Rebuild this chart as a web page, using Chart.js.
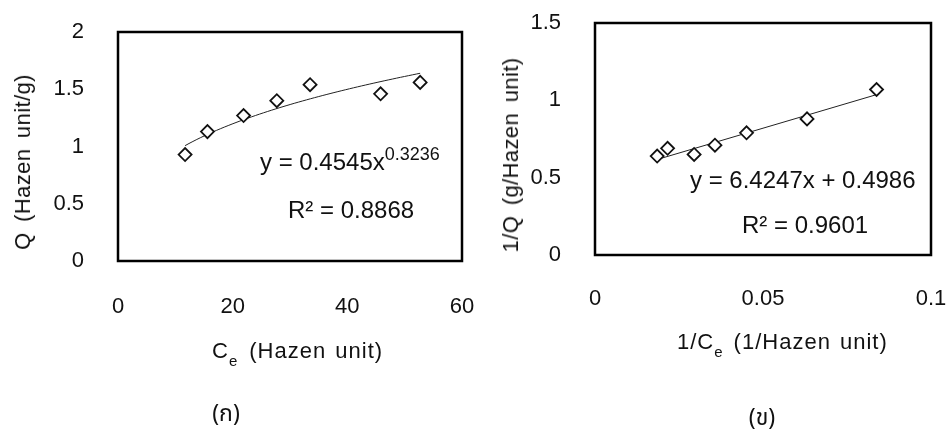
<!DOCTYPE html>
<html>
<head>
<meta charset="utf-8">
<script src="https://cdn.jsdelivr.net/npm/chart.js@4.4.1/dist/chart.umd.min.js"></script>
<style>
  html, body { margin: 0; padding: 0; background: #fff; }
  #page { position: relative; width: 948px; height: 433px; overflow: hidden; font-family: "Liberation Sans", Arial, sans-serif; color: #111; }
  .box { position: absolute; top: 0; width: 474px; height: 433px; }
  .txt { position: absolute; white-space: nowrap; line-height: 1; transform: translateY(-50%); }
  .eq { font-size: 24px; }
  .xt { font-size: 22px; letter-spacing: 1px; word-spacing: 2px; }
  .sub { font-size: 15px; position: relative; top: 8px; letter-spacing: 0; }
  .sup { font-size: 18px; position: relative; top: -10px; }
  .yt { position: absolute; font-size: 22px; white-space: nowrap; line-height: 1; letter-spacing: 0.4px; word-spacing: 4px; transform: translate(-50%, -50%) rotate(-90deg); }
  .cap { position: absolute; font-size: 23px; transform: translate(-50%, -50%); font-family: "Noto Sans Thai", "Noto Serif Thai", Garuda, Loma, "DejaVu Sans", serif; }
</style>
</head>
<body>
<div id="page">
  <div class="box" style="left:0"><canvas id="c1"></canvas></div>
  <div class="box" style="left:474px"><canvas id="c2"></canvas></div>

  <div class="yt" style="left:23px; top:162px">Q (Hazen unit/g)</div>
  <div class="yt" style="left:511px; top:155px">1/Q (g/Hazen unit)</div>

  <div class="txt xt" style="left:212px; top:351px">C<span class="sub" style="margin-right:12px">e</span>(Hazen unit)</div>
  <div class="txt xt" style="left:677px; top:342px">1/C<span class="sub" style="margin-right:11px">e</span>(1/Hazen unit)</div>

  <div class="txt eq" style="left:260px; top:162px">y = 0.4545x<span class="sup">0.3236</span></div>
  <div class="txt eq" style="left:288px; top:210px">R² = 0.8868</div>
  <div class="txt eq" style="left:690px; top:180px">y = 6.4247x + 0.4986</div>
  <div class="txt eq" style="left:742px; top:225px">R² = 0.9601</div>

  <div class="cap" style="left:226px; top:414px">(ก)</div>
  <div class="cap" style="left:762px; top:418px">(ข)</div>
</div>

<script>
// (ก) equilibrium concentration vs adsorbed amount
const ce = [11.7, 15.6, 21.9, 27.7, 33.5, 45.8, 52.7];
const q = [0.93, 1.13, 1.27, 1.40, 1.54, 1.46, 1.56];
// power trendline shown on the chart: y = 0.4545x^0.3236
const powA = 0.4545;
const powB = 0.3236;

// (ข) linearised form 1/Q vs 1/Ce
const invCe = [0.0185, 0.0216, 0.0295, 0.0357, 0.0451, 0.0631, 0.0838];
const invQ = [0.64, 0.69, 0.65, 0.71, 0.79, 0.88, 1.07];
// linear trendline shown on the chart: y = 6.4247x + 0.4986
const linM = 6.4247;
const linC = 0.4986;

const xTicks1 = [0, 20, 40, 60];
const yTicks1 = [0, 0.5, 1, 1.5, 2];
const xTicks2 = [0, 0.05, 0.1];
const yTicks2 = [0, 0.5, 1, 1.5];

const powLine = [];
for (let i = 0; i <= 60; i++) {
  const x = ce[0] + (ce[ce.length - 1] - ce[0]) * i / 60;
  powLine.push({ x: x, y: powA * Math.pow(x, powB) });
}
const linLine = [invCe[0], invCe[invCe.length - 1]].map(x => ({ x: x, y: linM * x + linC }));

const frame = {
  id: 'frame',
  afterDatasetsDraw(chart) {
    const a = chart.chartArea;
    const ctx = chart.ctx;
    ctx.save();
    ctx.strokeStyle = '#000';
    ctx.lineWidth = 2.5;
    ctx.strokeRect(a.left, a.top, a.right - a.left, a.bottom - a.top);
    ctx.restore();
  }
};

function fmt(v) {
  return String(Number(v.toFixed(3)));
}

function makeChart(id, pts, line, xr, yr, xt, yt, dims) {
  const canvas = document.getElementById(id);
  canvas.width = 474;
  canvas.height = 433;
  return new Chart(canvas.getContext('2d'), {
    type: 'scatter',
    data: {
      datasets: [
        {
          data: pts,
          pointStyle: 'rectRot',
          pointRadius: 6.5,
          pointBorderWidth: 1.8,
          pointBorderColor: '#111',
          pointBackgroundColor: '#fff',
          order: 0
        },
        {
          data: line,
          showLine: true,
          borderColor: '#222',
          borderWidth: 1,
          pointRadius: 0,
          tension: 0,
          order: 1
        }
      ]
    },
    options: {
      responsive: false,
      animation: false,
      events: [],
      layout: { padding: { top: dims.top, right: dims.right, left: 0, bottom: 0 } },
      plugins: { legend: { display: false }, tooltip: { enabled: false } },
      scales: {
        x: {
          type: 'linear',
          min: xr[0],
          max: xr[1],
          afterBuildTicks: s => { s.ticks = xt.map(v => ({ value: v })); },
          afterFit: s => { s.height = dims.xh; s.paddingLeft = 0; s.paddingRight = 0; },
          grid: { display: false, drawTicks: false },
          border: { display: false },
          ticks: {
            padding: dims.xpad,
            color: '#111',
            font: { family: 'Liberation Sans', size: 22 },
            maxRotation: 0,
            callback: fmt
          }
        },
        y: {
          min: yr[0],
          max: yr[1],
          afterBuildTicks: s => { s.ticks = yt.map(v => ({ value: v })); },
          afterFit: s => { s.width = dims.yw; s.paddingTop = 0; s.paddingBottom = 0; },
          grid: { display: false, drawTicks: false },
          border: { display: false },
          ticks: {
            padding: dims.ypad,
            color: '#111',
            font: { family: 'Liberation Sans', size: 22 },
            callback: fmt
          }
        }
      }
    },
    plugins: [frame]
  });
}

makeChart('c1', ce.map((x, i) => ({ x: x, y: q[i] })), powLine, [0, 60], [0, 2], xTicks1, yTicks1,
  { top: 32, right: 12, xh: 172, yw: 118, xpad: 33, ypad: 34 });
makeChart('c2', invCe.map((x, i) => ({ x: x, y: invQ[i] })), linLine, [0, 0.1], [0, 1.5], xTicks2, yTicks2,
  { top: 23, right: 17, xh: 178, yw: 121, xpad: 31, ypad: 34 });
</script>
</body>
</html>
